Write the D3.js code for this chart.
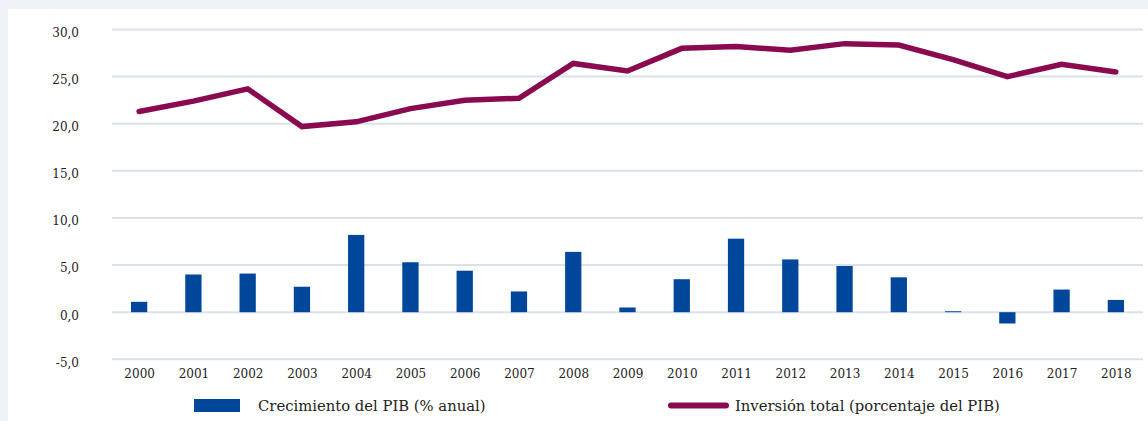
<!DOCTYPE html>
<html><head><meta charset="utf-8">
<script src="https://cdn.jsdelivr.net/npm/d3@7"></script>
<style>
html,body{margin:0;padding:0;background:#eff3f7;}
svg{display:block;}
text{font-family:"DejaVu Serif",serif;fill:#222;}
</style></head>
<body><svg id="chart" width="1148" height="421"></svg>
<script>
const years = ["2000","2001","2002","2003","2004","2005","2006","2007","2008","2009","2010","2011","2012","2013","2014","2015","2016","2017","2018"];
const gdpGrowth = [1.1,4.0,4.1,2.7,8.2,5.3,4.4,2.2,6.4,0.5,3.5,7.8,5.6,4.9,3.7,0.1,-1.2,2.4,1.3];
const investment = [21.3,22.4,23.7,19.7,20.2,21.6,22.5,22.7,26.4,25.6,28.0,28.2,27.8,28.5,28.35,26.8,25.0,26.3,25.5];
const yTicks = [-5,0,5,10,15,20,25,30];
const seriesNames = ["Crecimiento del PIB (% anual)","Inversión total (porcentaje del PIB)"];

const svg = d3.select("#chart");
svg.append("rect").attr("x",8).attr("y",9).attr("width",1140).attr("height",412).attr("fill","#fff");

const x = d3.scaleBand().domain(years).range([112,1143]).paddingInner(0.7).paddingOuter(0.35);
const xp = d3.scalePoint().domain(years).range([112,1143]).padding(0.5);
const y = d3.scaleLinear().domain([-5,30]).range([359.3,29.5]);

const loc = d3.formatLocale({decimal:",",thousands:".",grouping:[3],currency:["",""],minus:"-"});
const fmt = loc.format(".1f");

// gridlines
svg.append("g").selectAll("line").data(yTicks).join("line")
  .attr("x1",112).attr("x2",1143)
  .attr("y1",d=>y(d)).attr("y2",d=>y(d))
  .attr("stroke","#d9e2ec").attr("stroke-width",2);

// y axis labels
const yAxis = d3.axisLeft(y).tickValues(yTicks).tickFormat(fmt).tickSize(0).tickPadding(0);
const gy = svg.append("g").attr("transform","translate(79,3)").call(yAxis);
gy.select(".domain").remove();
gy.selectAll("text").style("font-family","DejaVu Serif").style("font-size","12px").attr("fill","#222");

// x axis labels
const xAxis = d3.axisBottom(xp).tickSize(0).tickPadding(0);
const gx = svg.append("g").attr("transform","translate(0,369)").call(xAxis);
gx.select(".domain").remove();
gx.selectAll("text").style("font-family","DejaVu Serif").style("font-size","12px").attr("fill","#222");

// bars
svg.append("g").selectAll("rect").data(years).join("rect")
  .attr("x",d=>x(d)).attr("width",x.bandwidth())
  .attr("y",(d,i)=>y(Math.max(0,gdpGrowth[i])))
  .attr("height",(d,i)=>Math.abs(y(gdpGrowth[i])-y(0)))
  .attr("fill","#00479b");

// line
const line = d3.line().x((d,i)=>xp(years[i])).y(d=>y(d));
svg.append("path").datum(investment).attr("d",line)
  .attr("fill","none").attr("stroke","#8a0a50").attr("stroke-width",5.5)
  .attr("stroke-linejoin","miter").attr("stroke-linecap","round");

// legend
const lg = svg.append("g");
lg.append("rect").attr("x",194).attr("y",399).attr("width",46).attr("height",13).attr("fill","#00479b");
lg.append("text").attr("x",258).attr("y",411).style("font-size","14.8px").text(seriesNames[0]);
lg.append("line").attr("x1",671).attr("x2",726).attr("y1",405.5).attr("y2",405.5)
  .attr("stroke","#8a0a50").attr("stroke-width",6).attr("stroke-linecap","round");
lg.append("text").attr("x",735).attr("y",411).style("font-size","14.8px").text(seriesNames[1]);
</script></body></html>
